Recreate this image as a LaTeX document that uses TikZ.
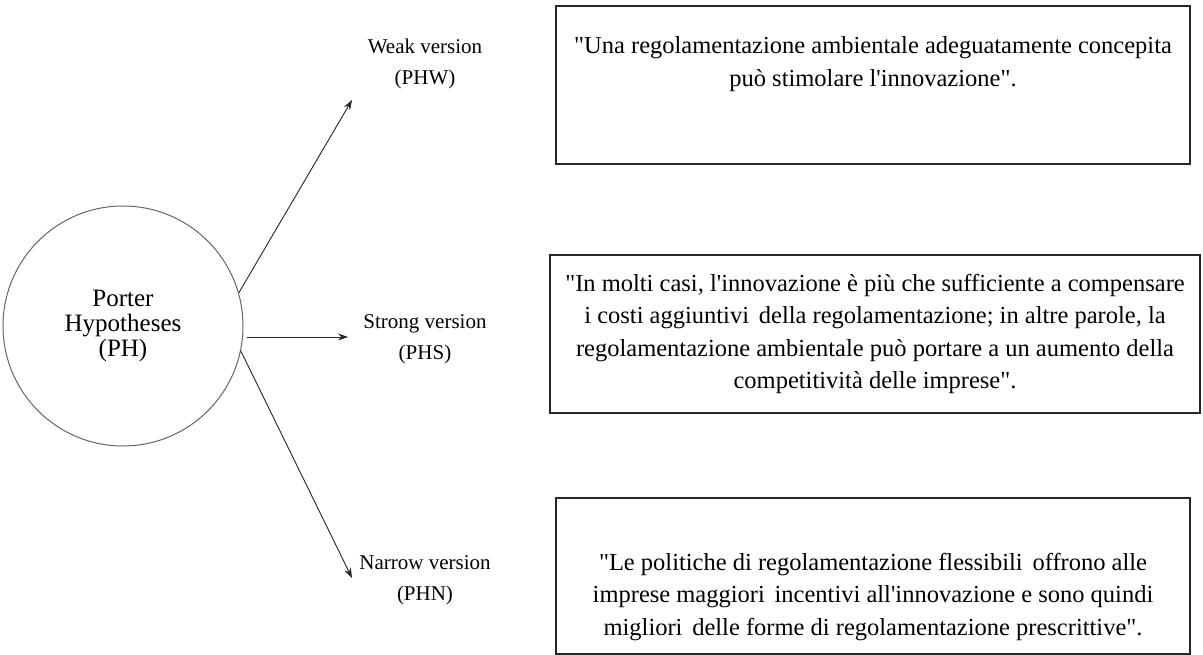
\documentclass[tikz,border=0pt]{standalone}
\usepackage{fontspec}
\setmainfont{Liberation Serif}[Ligatures=TeXOff]
\usetikzlibrary{arrows.meta}
\newcommand\ap{\textquotesingle}
\newcommand\xs{\hspace{0.15em}}
\begin{document}
\begin{tikzpicture}[x=1pt,y=-1pt,
  txt/.style={font=\fontsize{24.5}{32.5}\selectfont, align=center, inner sep=0pt},
  lbl/.style={font=\fontsize{21}{31}\selectfont, align=center, inner sep=0pt},
  ctxt/.style={font=\fontsize{25}{25}\selectfont, align=center, inner sep=0pt},
  quote/.style={draw=black!85, line width=1.3pt, minimum width=634pt, minimum height=158pt},
  arr/.style={-{Stealth[length=10pt,width=7pt]}, line width=0.9pt, draw=black!85}]
\useasboundingbox (0,0) rectangle (1203,655);
\fill[white] (0,0) rectangle (1203,655);
\node[circle, draw=black!60, line width=1pt, minimum size=240pt, ctxt] (ph) at (123,326) {Porter\\Hypotheses\\(PH)};
\node[lbl] (w) at (425,64) {Weak version\\(PHW)};
\node[lbl] (s) at (425,339) {Strong version\\(PHS)};
\node[lbl] (n) at (425,580) {Narrow version\\(PHN)};
\coordinate (wend) at (352,100);
\coordinate (send) at (348,337);
\coordinate (nend) at (352,578);
\coordinate (sstart) at (247,337);
\draw[arr] (ph.16) -- (wend);
\draw[arr] (sstart) -- (send);
\draw[arr] (ph.-12) -- (nend);
\node[quote] (b1) at (873,85) {};
\node[txt] (t1) at (873,64) {"Una regolamentazione ambientale adeguatamente concepita\\pu\`o stimolare l\ap innovazione".};
\node[quote, minimum width=650pt] (b2) at (875,334) {};
\node[txt] (t2) at (875,334) {"In molti casi, l\ap innovazione \`e pi\`u che sufficiente a compensare\\i costi aggiuntivi\xs{} della regolamentazione; in altre parole, la\\regolamentazione ambientale pu\`o portare a un aumento della\\competitivit\`a delle imprese".};
\node[quote, minimum height=156pt] (b3) at (873,576) {};
\node[txt] (t3) at (873,597) {"Le politiche di regolamentazione flessibili\xs{} offrono alle\\imprese maggiori\xs{} incentivi all\ap innovazione e sono quindi\\migliori\xs{} delle forme di regolamentazione prescrittive".};
\end{tikzpicture}
\end{document}
